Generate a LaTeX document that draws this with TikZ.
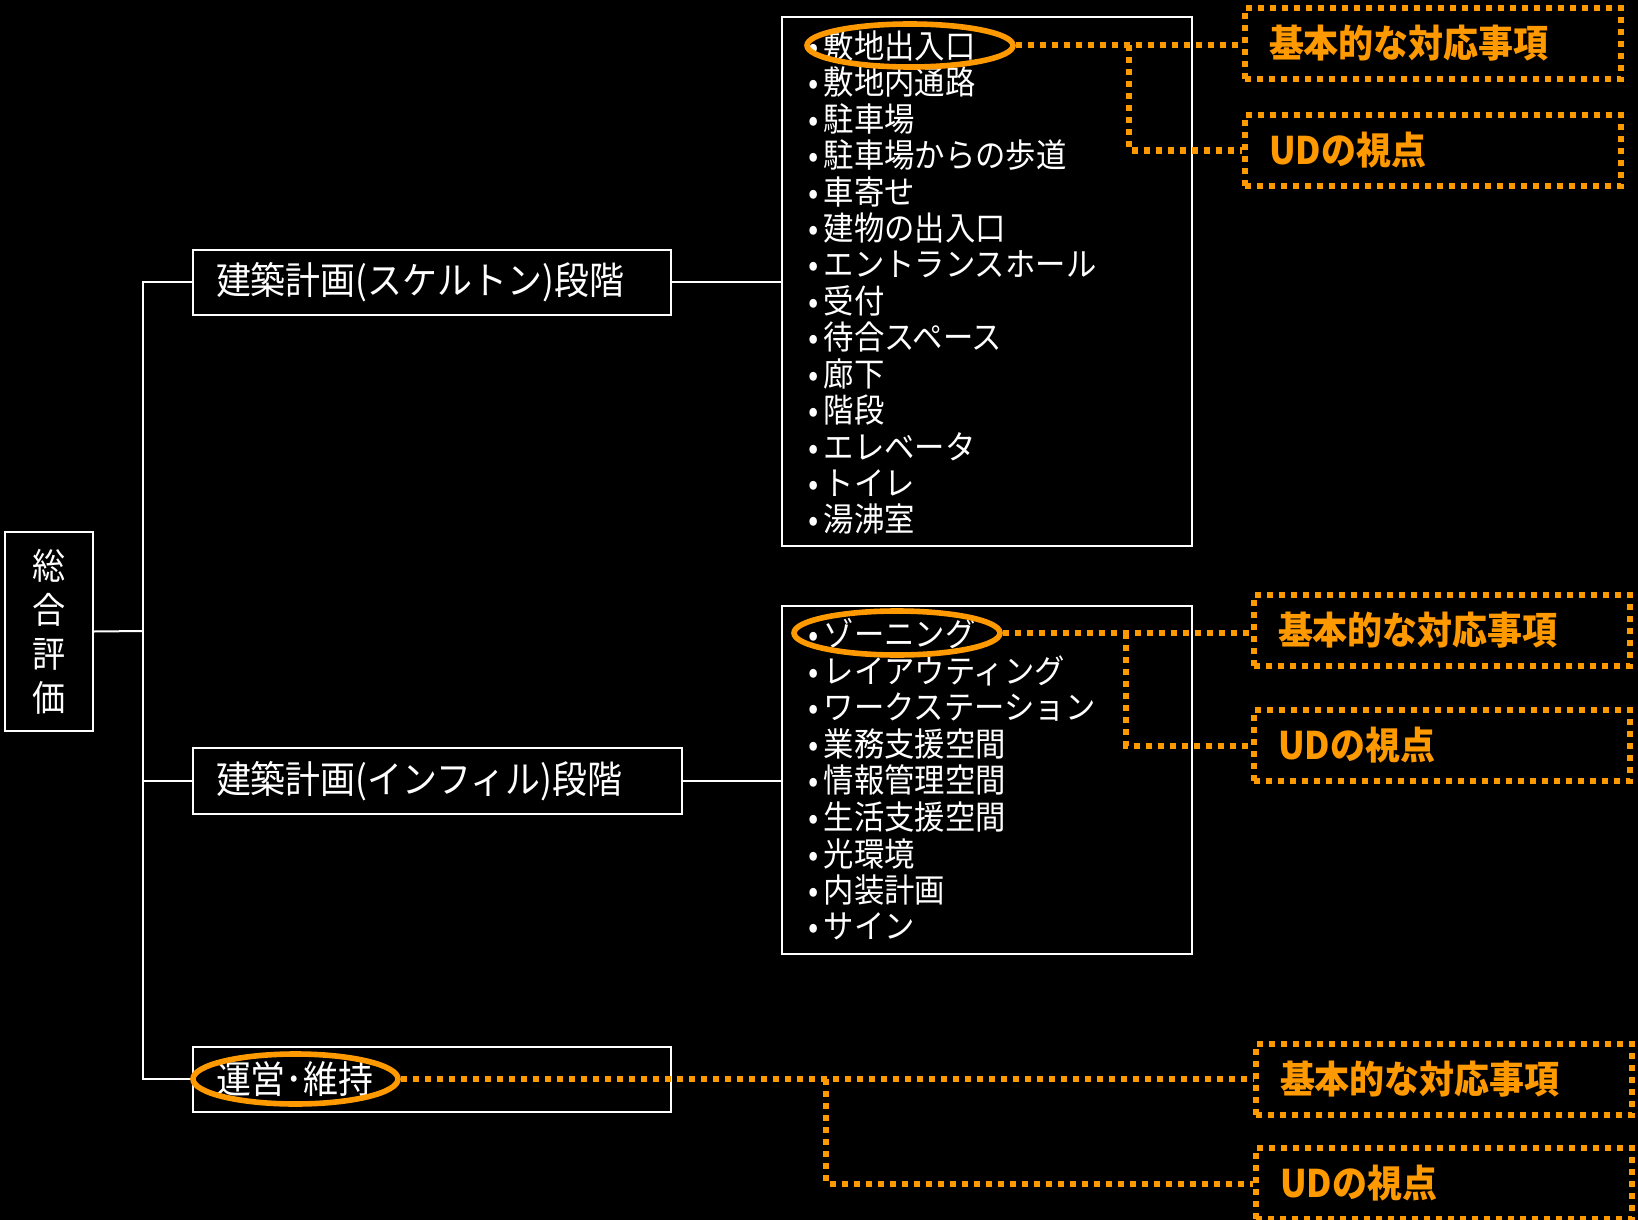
\documentclass[tikz,border=0pt]{standalone}
\usepackage{fontspec}
\setmainfont{Noto Sans CJK JP}[FakeStretch=0.92]
\usepackage{tikz}
\usetikzlibrary{shapes.geometric}
\definecolor{udorange}{RGB}{255,153,0}
\tikzset{kasten/.style={draw=white, line width=1pt, text=white, align=left,
           inner xsep=11.5pt, inner ysep=0pt, font=\fontsize{19}{22}\selectfont},
         liste/.style={draw=white, line width=1pt, inner sep=0pt},
         eintrag/.style={text=white, anchor=west, inner sep=0pt,
           font=\fontsize{16.5}{18}\selectfont},
         wire/.style={white, line width=1pt},
         punkt/.style={udorange, line width=3pt, dash pattern=on 3pt off 3pt},
         ziel/.style={punkt, draw=udorange, text=udorange, align=left,
           text width=164pt, minimum height=35.5pt, inner xsep=12pt, inner ysep=0pt,
           font=\fontsize{19}{21}\selectfont\bfseries},
         ring/.style={ellipse, draw=udorange, line width=2.8pt, inner sep=0pt}}

\begin{document}
\begin{tikzpicture}[x=0.5pt, y=-0.5pt]
\useasboundingbox (0,0) rectangle (1638,1220);
\fill[black] (0,0) rectangle (1638,1220);
% Baum:
\node[kasten, align=center, inner sep=0pt, minimum width=44pt, minimum height=99.5pt,
  font=\fontsize{18}{22}\selectfont] (gesamt) at (49,631.5) {総\\合\\評\\価};
\node[kasten, text width=216pt, minimum height=32.5pt] (skel) at (432,282) {建築計画(スケルトン)段階};
\node[kasten, text width=221.5pt, minimum height=33pt] (infill) at (437.5,781) {建築計画(インフィル)段階};
\node[kasten, text width=216pt, minimum height=32.5pt] (betrieb) at (432,1079) {運営･維持};
\coordinate (stamm) at (143,631);
\draw[wire] (gesamt.east) -- (stamm);
\draw[wire] (skel.west) -| (stamm);
\draw[wire] (infill.west) -| (stamm);
\draw[wire] (betrieb.west) -| (stamm);
% Listen:
\node[liste, minimum width=205pt, minimum height=264.5pt] (liste1) at (987,281.5) {};
\node[liste, minimum width=205pt, minimum height=174pt] (liste2) at (987,780) {};
\draw[wire] (skel.east) -- (skel.east -| liste1.west);
\draw[wire] (infill.east) -- (infill.east -| liste2.west);
\foreach \i/\txt in {1/敷地出入口,2/敷地内通路,3/駐車場,4/駐車場からの歩道,5/車寄せ,
  6/建物の出入口,7/エントランスホール,8/受付,9/待合スペース,10/廊下,11/階段,
  12/エレベータ,13/トイレ,14/湯沸室}
  \node[eintrag] (a\i) at (808,{46+(\i-1)*36.4}) {•\hspace{2.5pt}\txt};
\foreach \i/\txt in {1/ゾーニング,2/レイアウティング,3/ワークステーション,4/業務支援空間,
  5/情報管理空間,6/生活支援空間,7/光環境,8/内装計画,9/サイン}
  \node[eintrag] (b\i) at (808,{634+(\i-1)*36.6}) {•\hspace{2.5pt}\txt};
% Markierungen:
\node[ring, minimum width=103pt, minimum height=21.5pt] (ring1) at (910,45.5) {};
\node[ring, minimum width=103pt, minimum height=22pt] (ring2) at (897,633) {};
\node[ring, minimum width=102.5pt, minimum height=25pt] (ring3) at (295.5,1079) {};
\node[ziel] (basis1) at (1433,43.5) {基本的な対応事項};
\node[ziel] (ud1) at (1433,150.5) {UDの視点};
\node[ziel] (basis2) at (1442,630.5) {基本的な対応事項};
\node[ziel] (ud2) at (1442,745.5) {UDの視点};
\node[ziel] (basis3) at (1444,1079) {基本的な対応事項};
\node[ziel] (ud3) at (1444,1183.5) {UDの視点};
\coordinate (knick1) at (1129,45.5);
\coordinate (knick2) at (1126,633);
\coordinate (knick3) at (826,1079);
\draw[punkt] (ring1.east) -- (ring1.east -| basis1.west);
\draw[punkt] (knick1) |- (ud1.west);
\draw[punkt] (ring2.east) -- (ring2.east -| basis2.west);
\draw[punkt] (knick2) |- (ud2.west);
\draw[punkt] (ring3.east) -- (ring3.east -| basis3.west);
\draw[punkt] (knick3) |- (ud3.west);
\end{tikzpicture}
\end{document}
